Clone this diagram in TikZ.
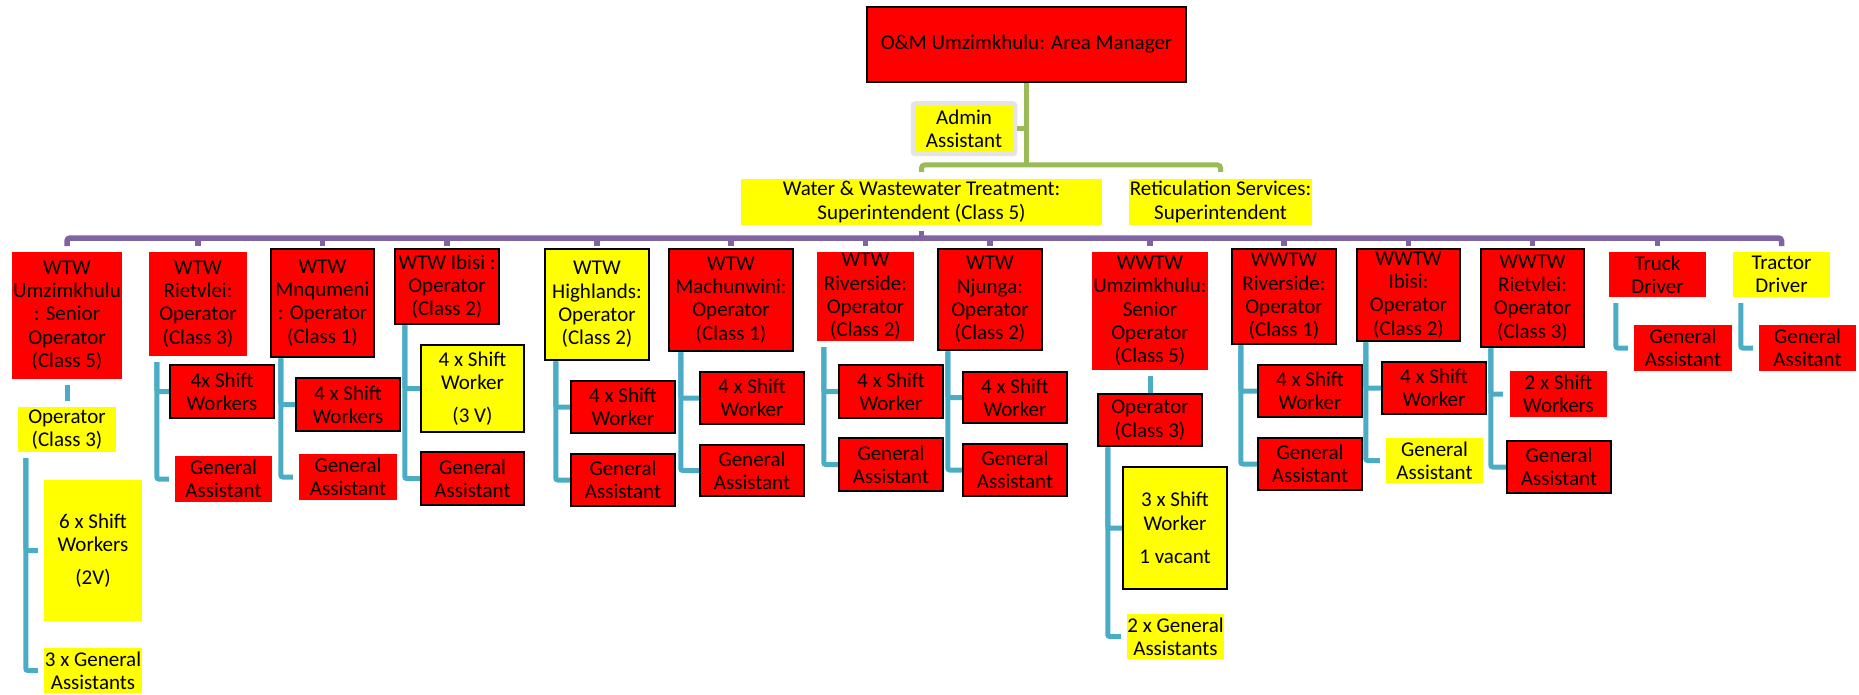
\documentclass[tikz,border=0pt]{standalone}
\usepackage{fontspec}
\setmainfont{Carlito}
\usetikzlibrary{calc}
\definecolor{boxred}{RGB}{255,0,0}
\definecolor{boxyel}{RGB}{255,255,0}
\definecolor{lgreen}{RGB}{155,187,89}
\definecolor{lpurple}{RGB}{128,100,162}
\definecolor{lcyan}{RGB}{75,172,198}
\definecolor{agray}{RGB}{228,228,228}
\tikzset{
  box/.style={inner sep=0pt, align=center, font=\fontsize{21}{23.3}\selectfont, text=black},
  rb/.style={box, fill=boxred, draw=black, line width=2.5pt},
  rn/.style={box, fill=boxred},
  yb/.style={box, fill=boxyel, draw=black, line width=2.5pt},
  yn/.style={box, fill=boxyel},
  adm/.style={box, fill=boxyel, draw=agray, line width=4.5pt, rounded corners=2pt},
  gline/.style={draw=lgreen, line width=5pt},
  pline/.style={draw=lpurple, line width=5.5pt},
  cline/.style={draw=lcyan, line width=5pt, rounded corners=2pt},
}
\newcommand\mkbox[7]{%
  \node[#2, minimum width={(#5-#3)*1pt}, minimum height={(#6-#4)*1pt}] (#1) at ({(#3+#5)/2},{(#4+#6)/2}) {#7};}
\begin{document}
\begin{tikzpicture}[x=1pt,y=-1pt]
\useasboundingbox (0,0) rectangle (1859,695);
% top level
\mkbox{AM}{rb}{867}{7}{1186}{82}{O\&M Umzimkhulu: Area Manager}
\mkbox{AA}{adm}{913}{103.5}{1015}{154}{Admin\\Assistant}
\mkbox{WS}{yn}{741}{179}{1102}{225}{Water \& Wastewater Treatment:\\Superintendent (Class 5)}
\mkbox{RS}{yn}{1129}{179}{1312}{225}{Reticulation Services:\\Superintendent}
% level 2
\mkbox{A1}{rn}{12}{252}{122}{379}{WTW\\Umzimkhulu\\: Senior\\Operator\\(Class 5)}
\mkbox{A2}{rn}{149}{252}{247}{356}{WTW\\Rietvlei:\\Operator\\(Class 3)}
\mkbox{A3}{rb}{271}{249}{374}{357}{WTW\\Mnqumeni\\: Operator\\(Class 1)}
\mkbox{A4}{rb}{395}{249}{499}{324}{WTW Ibisi :\\Operator\\(Class 2)}
\mkbox{A5}{yb}{545}{249}{649}{360}{WTW\\Highlands:\\Operator\\(Class 2)}
\mkbox{A6}{rb}{669}{249}{793}{351}{WTW\\Machunwini:\\Operator\\(Class 1)}
\mkbox{A7}{rn}{817}{252}{914}{341}{WTW\\Riverside:\\Operator\\(Class 2)}
\mkbox{A8}{rb}{938}{249}{1042}{350}{WTW\\Njunga:\\Operator\\(Class 2)}
\mkbox{A9}{rn}{1092}{252}{1208}{370}{WWTW\\Umzimkhulu:\\Senior\\Operator\\(Class 5)}
\mkbox{A10}{rb}{1232}{249}{1336}{344}{WWTW\\Riverside:\\Operator\\(Class 1)}
\mkbox{A11}{rb}{1357}{249}{1460}{341}{WWTW\\Ibisi:\\Operator\\(Class 2)}
\mkbox{A12}{rb}{1481}{249}{1584}{347}{WWTW\\Rietvlei:\\Operator\\(Class 3)}
\mkbox{A13}{rn}{1609}{252}{1706}{297}{Truck\\Driver}
\mkbox{A14}{yn}{1733}{252}{1830}{297}{Tractor\\Driver}
% level 3 and 4
\mkbox{B1}{yn}{18}{407}{116}{452}{Operator\\(Class 3)}
\mkbox{C1a}{yn}{44}{480}{142}{621}{6 x Shift\\Workers\\[10pt](2V)}
\mkbox{C1b}{yn}{44}{648}{142}{693}{3 x General\\Assistants}
\mkbox{B2a}{rb}{170}{365}{274}{418}{4x Shift\\Workers}
\mkbox{B2b}{rn}{175}{456}{272}{502}{General\\Assistant}
\mkbox{B3a}{rb}{296}{378}{400}{431}{4 x Shift\\Workers}
\mkbox{B3b}{rn}{299}{454}{397}{500}{General\\Assistant}
\mkbox{B4a}{yb}{421}{345}{524}{432}{4 x Shift\\Worker\\[10pt](3 V)}
\mkbox{B4b}{rb}{421}{452}{524}{505}{General\\Assistant}
\mkbox{B5a}{rb}{571}{381}{675}{433}{4 x Shift\\Worker}
\mkbox{B5b}{rb}{571}{454}{675}{506}{General\\Assistant}
\mkbox{B6a}{rb}{700}{372}{804}{424}{4 x Shift\\Worker}
\mkbox{B6b}{rb}{700}{445}{804}{496}{General\\Assistant}
\mkbox{B7a}{rb}{839}{365}{943}{418}{4 x Shift\\Worker}
\mkbox{B7b}{rb}{839}{438}{943}{491}{General\\Assistant}
\mkbox{B8a}{rb}{963}{372}{1067}{423}{4 x Shift\\Worker}
\mkbox{B8b}{rb}{963}{444}{1067}{496}{General\\Assistant}
\mkbox{B9}{rb}{1098}{394}{1202}{446}{Operator\\(Class 3)}
\mkbox{C9a}{yb}{1123}{467}{1227}{589}{3 x Shift\\Worker\\[10pt]1 vacant}
\mkbox{C9b}{yn}{1127}{614}{1224}{659}{2 x General\\Assistants}
\mkbox{B10a}{rb}{1258}{365}{1362}{417}{4 x Shift\\Worker}
\mkbox{B10b}{rb}{1258}{438}{1362}{490}{General\\Assistant}
\mkbox{B11a}{rb}{1382}{362}{1486}{414}{4 x Shift\\Worker}
\mkbox{B11b}{yn}{1386}{438}{1483}{483}{General\\Assistant}
\mkbox{B12a}{rn}{1510}{371}{1607}{417}{2 x Shift\\Workers}
\mkbox{B12b}{rb}{1507}{441}{1611}{493}{General\\Assistant}
\mkbox{B13}{rn}{1634}{325}{1732}{371}{General\\Assistant}
\mkbox{B14}{rn}{1759}{325}{1856}{371}{General\\Assitant}
% green connectors
\coordinate (gbus) at (0,165);
\draw[gline] (AM.south) -- (AM.south |- gbus);
\draw[gline] (AA.east) -- (AM.south |- AA.east);
\draw[gline, rounded corners=3pt] ([yshift=7pt]WS.north) -- (WS.north |- gbus) -- (RS.north |- gbus) -- ([yshift=7pt]RS.north);
% purple bus
\coordinate (bus) at (0,238);
\coordinate (tick) at (0,246);
\draw[pline, rounded corners=3pt] (A1.north |- tick) -- (A1.north |- bus) -- (A14.north |- bus) -- (A14.north |- tick);
\draw[pline] (WS.south |- bus) -- ([yshift=7pt]WS.south |- bus);
\foreach \n in {A2,A3,A4,A5,A6,A7,A8,A9,A10,A11,A12,A13}
  \draw[pline] (\n.north |- bus) -- (\n.north |- tick);
% cyan connectors
\draw[cline] ([yshift=-6pt]A1.south) -- ([yshift=6pt]B1.north);
\draw[cline] ([shift={(8,6)}]B1.south west) |- ([xshift=-6pt]C1a.west);
\draw[cline] ([shift={(8,6)}]B1.south west) |- ([xshift=-6pt]C1b.west);
\draw[cline] ([shift={(8,6)}]A2.south west) |- (B2a.west);
\draw[cline] ([shift={(8,6)}]A2.south west) |- ([xshift=-6pt]B2b.west);
\draw[cline] ([shift={(11,0)}]A3.south west) |- (B3a.west);
\draw[cline] ([shift={(11,0)}]A3.south west) |- ([xshift=-6pt]B3b.west);
\draw[cline] ([shift={(11,0)}]A4.south west) |- (B4a.west);
\draw[cline] ([shift={(11,0)}]A4.south west) |- (B4b.west);
\draw[cline] ([shift={(12,0)}]A5.south west) |- (B5a.west);
\draw[cline] ([shift={(12,0)}]A5.south west) |- (B5b.west);
\draw[cline] ([shift={(13,0)}]A6.south west) |- (B6a.west);
\draw[cline] ([shift={(13,0)}]A6.south west) |- (B6b.west);
\draw[cline] ([shift={(7,6)}]A7.south west) |- (B7a.west);
\draw[cline] ([shift={(7,6)}]A7.south west) |- (B7b.west);
\draw[cline] ([shift={(11,0)}]A8.south west) |- (B8a.west);
\draw[cline] ([shift={(11,0)}]A8.south west) |- (B8b.west);
\draw[cline] ([yshift=-6pt]A9.south) -- (B9.north);
\draw[cline] ([shift={(11,0)}]B9.south west) |- (C9a.west);
\draw[cline] ([shift={(11,0)}]B9.south west) |- ([xshift=-6pt]C9b.west);
\draw[cline] ([shift={(10,0)}]A10.south west) |- (B10a.west);
\draw[cline] ([shift={(10,0)}]A10.south west) |- (B10b.west);
\draw[cline] ([shift={(10,0)}]A11.south west) |- (B11a.west);
\draw[cline] ([shift={(10,0)}]A11.south west) |- ([xshift=-6pt]B11b.west);
\draw[cline] ([shift={(11,0)}]A12.south west) |- ([xshift=-7pt]B12a.west);
\draw[cline] ([shift={(11,0)}]A12.south west) |- (B12b.west);
\draw[cline] ([shift={(7,6)}]A13.south west) |- ([xshift=-6pt]B13.west);
\draw[cline] ([shift={(8,6)}]A14.south west) |- ([xshift=-6pt]B14.west);
\end{tikzpicture}
\end{document}
